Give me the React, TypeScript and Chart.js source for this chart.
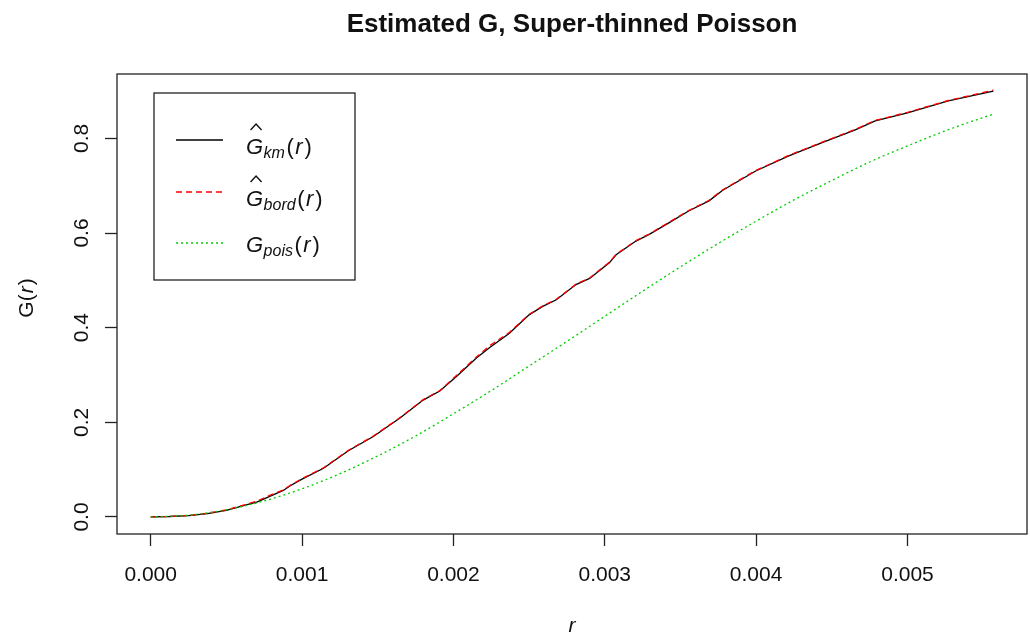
import React, { useEffect, useRef } from "react";
import { Chart, registerables } from "chart.js";

Chart.register(...registerables);

const FONT = '"Liberation Sans", Arial, Helvetica, sans-serif';

const chartTitle = "Estimated G, Super-thinned Poisson";
const xTicks = [0, 0.001, 0.002, 0.003, 0.004, 0.005];
const xTickLabels = ["0.000", "0.001", "0.002", "0.003", "0.004", "0.005"];
const yTicks = [0, 0.2, 0.4, 0.6, 0.8];
const yTickLabels = ["0.0", "0.2", "0.4", "0.6", "0.8"];
const xTitle = "r";
const legendSubs = ["km", "bord", "pois"];
const legendHats = [true, true, false];

// Kaplan-Meier and border estimates
const kmR = [
  0, 0.000125, 0.00025, 0.000375, 0.0005, 0.000625, 0.000705, 0.00079, 0.000876, 0.000922,
  0.001, 0.001142, 0.001306, 0.001471, 0.001647, 0.0018, 0.00191, 0.00202, 0.002152, 0.00224,
  0.00237, 0.0025, 0.00259, 0.00268, 0.00281, 0.0029, 0.00303, 0.003075, 0.003206, 0.003294,
  0.003426, 0.003557, 0.003689, 0.003777, 0.003997, 0.004216, 0.004436, 0.004655, 0.004787,
  0.005, 0.00527, 0.005567,
];
const kmG = [
  0, 0.001, 0.003, 0.007, 0.014, 0.025, 0.032, 0.044, 0.056, 0.066,
  0.08, 0.103, 0.14, 0.17, 0.209, 0.247, 0.266, 0.297, 0.336, 0.358,
  0.388, 0.427, 0.445, 0.459, 0.491, 0.504, 0.537, 0.554, 0.583, 0.597,
  0.622, 0.647, 0.668, 0.69, 0.731, 0.763, 0.791, 0.818, 0.837,
  0.854, 0.879, 0.9,
];
const bordG = [
  0, 0.001, 0.003, 0.008, 0.015, 0.026, 0.034, 0.046, 0.057, 0.067,
  0.081, 0.104, 0.141, 0.171, 0.21, 0.248, 0.267, 0.299, 0.338, 0.362,
  0.39, 0.428, 0.446, 0.46, 0.492, 0.505, 0.538, 0.555, 0.584, 0.598,
  0.623, 0.648, 0.669, 0.691, 0.732, 0.764, 0.792, 0.819, 0.838,
  0.855, 0.88, 0.902,
];
// Theoretical Poisson curve
const poisR = [
  0, 0.00025, 0.0005, 0.00075, 0.001, 0.00125, 0.0015, 0.00175, 0.002, 0.00225,
  0.0025, 0.00275, 0.003, 0.00325, 0.0035, 0.00375, 0.004, 0.00425, 0.0045, 0.00475,
  0.005, 0.00525, 0.0055, 0.005567,
];
const poisG = [
  0, 0.0038, 0.0152, 0.0339, 0.0595, 0.0914, 0.129, 0.171, 0.218, 0.267,
  0.319, 0.371, 0.424, 0.477, 0.5285, 0.578, 0.625, 0.67, 0.711, 0.75,
  0.784, 0.816, 0.844, 0.851,
];

type Part = { t: string; font: string; dy?: number; hat?: boolean; gap?: number };

function drawMath(ctx: CanvasRenderingContext2D, x: number, y: number, parts: Part[]) {
  let cx = x;
  for (const p of parts) {
    ctx.font = p.font;
    ctx.fillText(p.t, cx, y + (p.dy || 0));
    const w = ctx.measureText(p.t).width;
    if (p.hat) {
      const mid = cx + w / 2 + 1.5;
      ctx.save();
      ctx.lineWidth = 1.4;
      ctx.strokeStyle = ctx.fillStyle as string;
      ctx.beginPath();
      ctx.moveTo(mid - 5.5, y - 24);
      ctx.lineTo(mid, y - 30);
      ctx.lineTo(mid + 5.5, y - 24);
      ctx.stroke();
      ctx.restore();
    }
    cx += w + (p.gap || 0);
  }
  return cx - x;
}

const rPlotPlugin = {
  id: "rPlot",
  afterDraw(chart: any) {
    const { ctx, chartArea: a, scales } = chart;
    const xs = scales.x;
    const ys = scales.y;
    const cx = (a.left + a.right) / 2;
    ctx.save();
    // box
    ctx.strokeStyle = "#222";
    ctx.lineWidth = 1.3;
    ctx.strokeRect(a.left, a.top, a.right - a.left, a.bottom - a.top);

    ctx.fillStyle = "#111";
    ctx.textBaseline = "alphabetic";
    ctx.textAlign = "center";
    ctx.font = `21px ${FONT}`;
    xTicks.forEach((v, i) => {
      ctx.fillText(xTickLabels[i], xs.getPixelForValue(v), a.bottom + 47);
    });
    yTicks.forEach((v, i) => {
      ctx.save();
      ctx.translate(a.left - 29, ys.getPixelForValue(v));
      ctx.rotate(-Math.PI / 2);
      ctx.fillText(yTickLabels[i], 0, 0);
      ctx.restore();
    });

    // title
    ctx.font = `bold 26px ${FONT}`;
    ctx.fillText(chartTitle, cx, 32);

    // x title
    ctx.font = `italic 21px ${FONT}`;
    ctx.fillText(xTitle, cx, 632);

    // y title G(r)
    ctx.textAlign = "left";
    ctx.save();
    ctx.translate(33, 298);
    ctx.rotate(-Math.PI / 2);
    const yParts: Part[] = [
      { t: "G", font: `21px ${FONT}` },
      { t: "(", font: `21px ${FONT}`, gap: 1 },
      { t: "r", font: `italic 21px ${FONT}`, gap: 1 },
      { t: ")", font: `21px ${FONT}` },
    ];
    let tw = 0;
    for (const p of yParts) {
      ctx.font = p.font;
      tw += ctx.measureText(p.t).width + (p.gap || 0);
    }
    drawMath(ctx, -tw / 2, 0, yParts);
    ctx.restore();

    // legend
    const L = { left: 154, top: 93, right: 355, bottom: 280 };
    ctx.strokeStyle = "#222";
    ctx.lineWidth = 1.3;
    ctx.strokeRect(L.left, L.top, L.right - L.left, L.bottom - L.top);
    const rows = [140, 192, 243];
    const ds = chart.data.datasets;
    rows.forEach((ry, i) => {
      const d = ds[i];
      ctx.save();
      ctx.strokeStyle = d.borderColor;
      ctx.lineWidth = d.borderWidth;
      ctx.setLineDash(d.borderDash || []);
      ctx.beginPath();
      ctx.moveTo(176, ry);
      ctx.lineTo(223, ry);
      ctx.stroke();
      ctx.restore();
      const base = ry + (legendHats[i] ? 14 : 9);
      ctx.fillStyle = "#111";
      drawMath(ctx, 246, base, [
        { t: "G", font: `italic 22px ${FONT}`, hat: legendHats[i], gap: 0.5 },
        { t: legendSubs[i], font: `italic 16px ${FONT}`, dy: 4, gap: 1.5 },
        { t: "(", font: `22px ${FONT}`, gap: 1.5 },
        { t: "r", font: `italic 22px ${FONT}`, gap: 2 },
        { t: ")", font: `22px ${FONT}` },
      ]);
    });
    ctx.restore();
  },
};

export default function App() {
  const ref = useRef<HTMLCanvasElement | null>(null);
  useEffect(() => {
    if (!ref.current) return;
    const chart = new Chart(ref.current, {
      type: "line",
      data: {
        datasets: [
          {
            label: "km",
            data: kmR.map((r, i) => ({ x: r, y: kmG[i] })),
            borderColor: "#000000",
            borderWidth: 1.3,
            pointRadius: 0,
            tension: 0,
            order: 3,
          },
          {
            label: "bord",
            data: kmR.map((r, i) => ({ x: r, y: bordG[i] })),
            borderColor: "#FF0000",
            borderWidth: 1.3,
            borderDash: [6, 4],
            pointRadius: 0,
            tension: 0,
            order: 2,
          },
          {
            label: "pois",
            data: poisR.map((r, i) => ({ x: r, y: poisG[i] })),
            borderColor: "#00CD00",
            borderWidth: 1.3,
            borderDash: [2, 3],
            pointRadius: 0,
            cubicInterpolationMode: "monotone",
            order: 1,
          },
        ] as any,
      },
      options: {
        animation: false,
        responsive: false,
        devicePixelRatio: 1,
        layout: { padding: { top: 74, right: 3, left: 0, bottom: 0 } },
        plugins: {
          legend: { display: false },
          tooltip: { enabled: false },
          title: { display: false },
        },
        scales: {
          x: {
            type: "linear",
            min: -0.0002227,
            max: 0.0057897,
            afterBuildTicks: (s: any) => {
              s.ticks = xTicks.map((v) => ({ value: v }));
            },
            afterFit: (s: any) => {
              s.height = 105;
            },
            ticks: { display: false },
            grid: {
              drawOnChartArea: false,
              drawTicks: true,
              tickLength: 12,
              tickColor: "#222",
              tickWidth: 1.3,
            },
            border: { display: false },
          },
          y: {
            type: "linear",
            min: -0.036,
            max: 0.936,
            afterBuildTicks: (s: any) => {
              s.ticks = yTicks.map((v) => ({ value: v }));
            },
            afterFit: (s: any) => {
              s.width = 117;
            },
            ticks: { display: false },
            grid: {
              drawOnChartArea: false,
              drawTicks: true,
              tickLength: 12,
              tickColor: "#222",
              tickWidth: 1.3,
            },
            border: { display: false },
          },
        },
      } as any,
      plugins: [rPlotPlugin],
    });
    return () => chart.destroy();
  }, []);
  return (
    <div style={{ position: "absolute", left: 0, top: 0, width: 1030, height: 639, background: "#fff" }}>
      <canvas ref={ref} width={1030} height={639} />
    </div>
  );
}
